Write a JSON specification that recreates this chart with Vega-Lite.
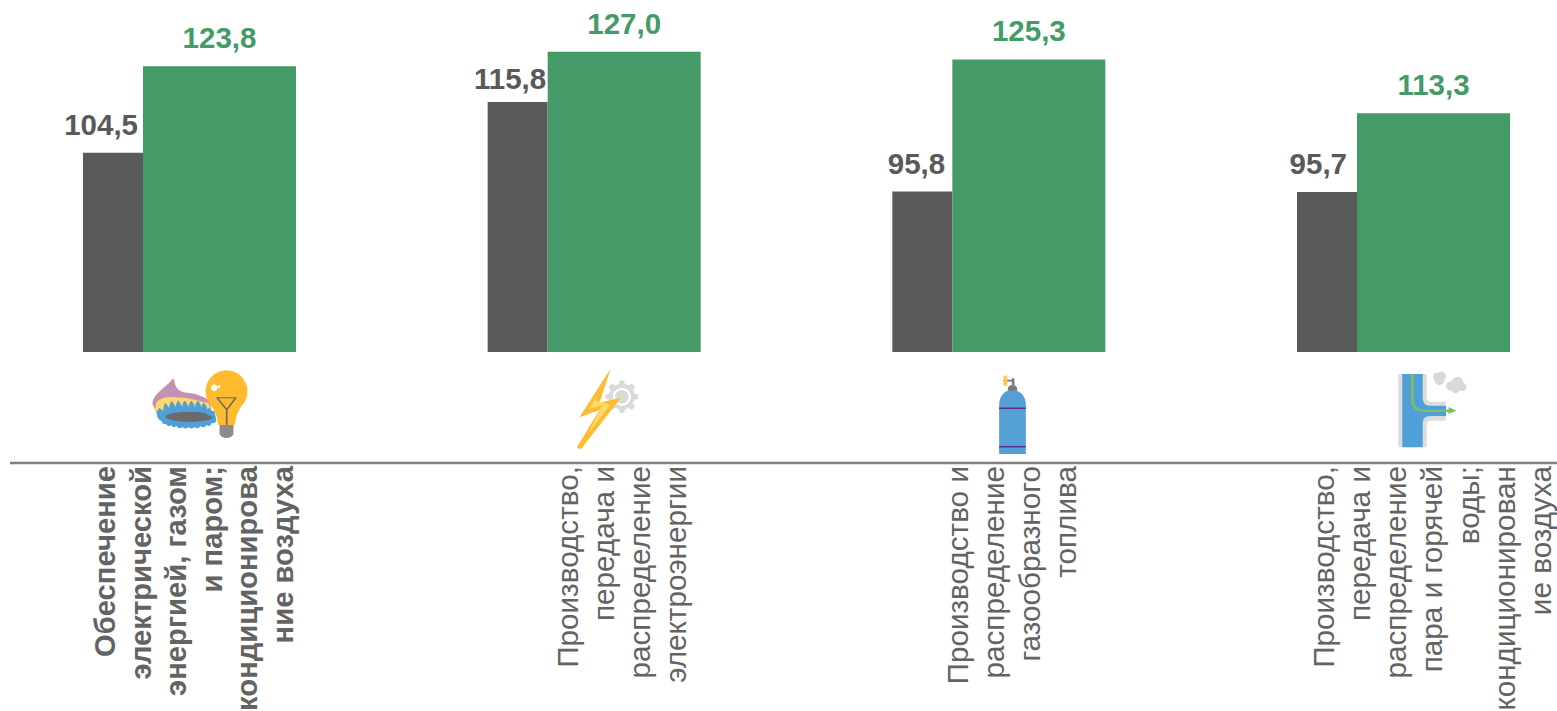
{
"$schema":"https://vega.github.io/schema/vega-lite/v6.json",
"width":1557,"height":711,"padding":0,"autosize":{"type":"none"},"background":"white",
"config":{"view":{"stroke":null},"axis":{"disable":true},"legend":{"disable":true}},
"datasets":{
"bars":[
{"order":1,"series":"A","value":104.5,"label":"104,5"},
{"order":2,"series":"A","value":115.8,"label":"115,8"},
{"order":3,"series":"A","value":95.8,"label":"95,8"},
{"order":4,"series":"A","value":95.7,"label":"95,7"},
{"order":1,"series":"B","value":123.8,"label":"123,8"},
{"order":2,"series":"B","value":127.0,"label":"127,0"},
{"order":3,"series":"B","value":125.3,"label":"125,3"},
{"order":4,"series":"B","value":113.3,"label":"113,3"}],
"sectors":[
{"order":1,"name":"Обеспечение\nэлектрической\nэнергией, газом\nи паром;\nкондиционирова\nние воздуха"},
{"order":2,"name":"Производство,\nпередача и\nраспределение\nэлектроэнергии"},
{"order":3,"name":"Производство и\nраспределение\nгазообразного\nтоплива"},
{"order":4,"name":"Производство,\nпередача и\nраспределение\nпара и горячей\nводы;\nкондиционирован\nие воздуха"}],
"icons":[
{"order":1,"part":"flame"},{"order":1,"part":"innerflame"},{"order":1,"part":"ring"},{"order":1,"part":"burner"},{"order":1,"part":"teeth"},{"order":1,"part":"bulb"},{"order":1,"part":"base"},{"order":1,"part":"filament"},{"order":1,"part":"glint"},
{"order":2,"part":"gear"},{"order":2,"part":"gearring"},{"order":2,"part":"gearhub"},{"order":2,"part":"bolt"},{"order":2,"part":"boltlight"},
{"order":3,"part":"cylinder"},{"order":3,"part":"bands"},{"order":3,"part":"valve"},{"order":3,"part":"knob"},
{"order":4,"part":"pipeshell"},{"order":4,"part":"pipe"},{"order":4,"part":"stream"},{"order":4,"part":"clouds"}]
},
"layer":[
{"data":{"name":"bars"},"transform":[{"filter":"datum.series==='A'"}],
"mark":{"type":"bar","orient":"vertical","size":60,"xOffset":-106.5,"color":"#595959"},
"encoding":{"x":{"field":"order","type":"quantitative","scale":{"domain":[0.45758,4.30516],"zero":false,"nice":false,"padding":0}},
"y":{"field":"value","type":"quantitative","scale":{"domain":[-20.13,138.57],"zero":false,"nice":false}},"y2":{"datum":60}}},
{"data":{"name":"bars"},"transform":[{"filter":"datum.series==='B'"}],
"mark":{"type":"bar","orient":"vertical","size":153,"color":"#449B67"},
"encoding":{"x":{"field":"order","type":"quantitative"},"y":{"field":"value","type":"quantitative"},"y2":{"datum":60}}},
{"data":{"name":"bars"},"transform":[{"filter":"datum.series==='B'"}],
"mark":{"type":"text","font":"Liberation Sans","fontWeight":"bold","fontSize":29.5,"color":"#449B67","baseline":"alphabetic","dy":-18},
"encoding":{"x":{"field":"order","type":"quantitative"},"y":{"field":"value","type":"quantitative"},"text":{"field":"label"}}},
{"data":{"name":"bars"},"transform":[{"filter":"datum.series==='A' && datum.order===1"}],
"mark":{"type":"text","font":"Liberation Sans","fontWeight":"bold","fontSize":29.5,"color":"#595959","baseline":"alphabetic","align":"right","dy":-18,"xOffset":-81.5},
"encoding":{"x":{"field":"order","type":"quantitative"},"y":{"field":"value","type":"quantitative"},"text":{"field":"label"}}},
{"data":{"name":"bars"},"transform":[{"filter":"datum.series==='A' && datum.order===2"}],
"mark":{"type":"text","font":"Liberation Sans","fontWeight":"bold","fontSize":29.5,"color":"#595959","baseline":"alphabetic","align":"right","dy":-13,"xOffset":-78},
"encoding":{"x":{"field":"order","type":"quantitative"},"y":{"field":"value","type":"quantitative"},"text":{"field":"label"}}},
{"data":{"name":"bars"},"transform":[{"filter":"datum.series==='A' && datum.order===3"}],
"mark":{"type":"text","font":"Liberation Sans","fontWeight":"bold","fontSize":29.5,"color":"#595959","baseline":"alphabetic","align":"right","dy":-18,"xOffset":-83.7},
"encoding":{"x":{"field":"order","type":"quantitative"},"y":{"field":"value","type":"quantitative"},"text":{"field":"label"}}},
{"data":{"name":"bars"},"transform":[{"filter":"datum.series==='A' && datum.order===4"}],
"mark":{"type":"text","font":"Liberation Sans","fontWeight":"bold","fontSize":29.5,"color":"#595959","baseline":"alphabetic","align":"right","dy":-18,"xOffset":-86.5},
"encoding":{"x":{"field":"order","type":"quantitative"},"y":{"field":"value","type":"quantitative"},"text":{"field":"label"}}},
{"data":{"values":[{"order":1}]},
"mark":{"type":"rule","color":"#7F7F7F","size":2.5},
"encoding":{"x":{"datum":0.4823},"x2":{"datum":4.30516},"y":{"datum":35.22}}},
{"data":{"name":"sectors"},"transform":[{"filter":"datum.order===1"}],
"mark":{"type":"text","font":"Liberation Sans","fontWeight":"bold","fontSize":29.2,"color":"#636363","angle":270,"align":"right","baseline":"middle","lineBreak":"\n","lineHeight":35.6,"xOffset":-113.5},
"encoding":{"x":{"field":"order","type":"quantitative"},"y":{"datum":34.55},"text":{"field":"name"}}},
{"data":{"name":"sectors"},"transform":[{"filter":"datum.order===2"}],
"mark":{"type":"text","font":"Liberation Sans","fontSize":29.7,"color":"#636363","angle":270,"align":"right","baseline":"middle","lineBreak":"\n","lineHeight":36,"xOffset":-55},
"encoding":{"x":{"field":"order","type":"quantitative"},"y":{"datum":34.55},"text":{"field":"name"}}},
{"data":{"name":"sectors"},"transform":[{"filter":"datum.order===3"}],
"mark":{"type":"text","font":"Liberation Sans","fontSize":29.7,"color":"#636363","angle":270,"align":"right","baseline":"middle","lineBreak":"\n","lineHeight":36,"xOffset":-69.7},
"encoding":{"x":{"field":"order","type":"quantitative"},"y":{"datum":34.55},"text":{"field":"name"}}},
{"data":{"name":"sectors"},"transform":[{"filter":"datum.order===4"}],
"mark":{"type":"text","font":"Liberation Sans","fontSize":29.7,"color":"#636363","angle":270,"align":"right","baseline":"middle","lineBreak":"\n","lineHeight":36.3,"xOffset":-109},
"encoding":{"x":{"field":"order","type":"quantitative"},"y":{"datum":34.55},"text":{"field":"name"}}},
{"data":{"name":"icons"},
"mark":{"type":"point","filled":true,"size":4,"opacity":1,"strokeWidth":0},
"encoding":{"x":{"field":"order","type":"quantitative"},"y":{"datum":46.607},
"shape":{"field":"part","type":"nominal","scale":{
"domain":["flame","innerflame","ring","burner","teeth","bulb","base","filament","glint","gear","gearring","gearhub","bolt","boltlight","cylinder","bands","valve","knob","pipeshell","pipe","stream","clouds"],
"range":[
"M-46,-34 C-44,-24 -42,-20 -30,-19 C-20,-18 -15,-14 -10,-12 L-6,8 L-60,8 L-67,-8 C-67,-18 -56,-22 -46,-34 Z",
"M-64.5,-2 L-63,-10 C-58,-14 -54,-15 -49.5,-15 L-33,-14 L-11,-9 L-6,5 L-59.5,8 Z",
"M-63,-1 L-5,-1 L-3,9 Q-5,12 -8,11 Q-9,16 -13,13 Q-15,17 -19,14 Q-22,18 -25,15 Q-28,18 -31,15 Q-34,18 -37,15 Q-40,18 -43,14 Q-47,17 -48,13 Q-52,16 -53,12 Q-57,13 -58,9 Q-62,8 -63,-1 Z",
"M-54,4.7 a24,5 0 1,0 48,0 a24,5 0 1,0 -48,0 Z",
"M-62,6 Q-63,-3 -60,-4 Q-55,-1 -53,4 Z M-56,3 Q-57,-7 -54,-9 Q-50,-5 -48,1 Z M-50,1 Q-51,-9 -47.5,-11 Q-43.5,-6 -42,0 Z M-43.5,0 Q-44.5,-9 -41,-11.5 Q-37,-6 -36,-0.5 Z M-37,-0.5 Q-38,-9 -34.5,-11.5 Q-30.5,-6 -29.5,-0.5 Z M-30.5,-0.5 Q-31.5,-9 -28,-11.5 Q-24,-6 -23,-0.5 Z M-24,-0.5 Q-25,-9 -21.5,-11.5 Q-17.5,-6 -17,0.5 Z M-18,0.5 Q-19,-7 -15.5,-9.5 Q-12,-5 -11,2 Z M-12.5,2.5 Q-13,-3 -10,-4.5 Q-6.5,0 -5.5,6 Z",
"M-8,-6 A21,21 0 1,1 22,-6 C19,-1 16,3 15.5,13 L-1.5,13 C-2,3 -5,-1 -8,-6 Z",
"M0,13 L14,13 L14,22 Q12,26 7,26 Q2,26 0,22 Z",
"M-3,-14.8 L17,-14.8 L17,-13.8 L8,-2 L8,13 L6.4,13 L6.4,-2 L-3,-13.8 Z M-1,-13.8 L7.2,-3.5 L15,-13.8 Z",
"M-8.5,-24.3 a3.3,3.3 0 1,0 6.6,0 a3.3,3.3 0 1,0 -6.6,0 Z M-2,-25.3 a1.4,1.4 0 1,0 2.8,0 a1.4,1.4 0 1,0 -2.8,0 Z",
"M10.3,-18.4 L14,-17.6 L14,-13 L10.3,-12.2 L8.8,-8.6 L10.9,-5.4 L7.6,-2.1 L4.4,-4.2 L0.8,-2.7 L0,1 L-4.6,1 L-5.4,-2.7 L-9,-4.2 L-12.2,-2.1 L-15.5,-5.4 L-13.4,-8.6 L-14.9,-12.2 L-18.6,-13 L-18.6,-17.6 L-14.9,-18.4 L-13.4,-22 L-15.5,-25.2 L-12.2,-28.5 L-9,-26.4 L-5.4,-27.9 L-4.6,-31.6 L0,-31.6 L0.8,-27.9 L4.4,-26.4 L7.6,-28.5 L10.9,-25.2 L8.8,-22 Z",
"M-11.3,-15.3 a9,9 0 1,0 18,0 a9,9 0 1,0 -18,0 Z",
"M-9,-15.3 a6.7,6.7 0 1,0 13.4,0 a6.7,6.7 0 1,0 -13.4,0 Z",
"M-13.3,-43.7 L-44.7,5.3 L-24.7,-2 L-47.3,35.3 L-43.3,37.3 L-3.3,-14.3 L-24.7,-9.3 Z",
"M-20.7,-28.7 L-35.7,-2 L-22.3,-7 L-35.7,21.3 L-14,-7 L-29,-12 Z",
"M-29.7,42 L-29.7,-7 C-29.7,-16 -24,-22 -16.4,-22 C-9,-22 -3,-16 -3,-7 L-3,42 Z",
"M-29.7,-4.4 L-3,-4.4 L-3,-3 L-29.7,-3 Z M-29.7,34 L-3,34 L-3,35.5 L-29.7,35.5 Z",
"M-21,-21.3 L-21,-24 Q-20,-27 -16.4,-27 Q-12.7,-27 -11.7,-24 L-11.7,-21.3 Z M-17,-27 L-17,-33.7 L-14.4,-33.7 L-14.4,-27 Z M-25.4,-32.3 L-17,-32.3 L-17,-30.5 L-25.4,-30.5 Z",
"M-25.4,-36.3 L-21.4,-36.3 L-21.4,-26.3 L-25.4,-26.3 Z",
"M-35.2,-38 L-6.8,-38 L-6.8,-15.3 Q-6.8,-10.3 -1.8,-10.3 L12.2,-10.3 L12.2,8.7 L-1.8,8.7 Q-6.8,8.7 -6.8,13 L-6.8,35.3 L-35.2,35.3 Z",
"M-31.2,-38 L-10.8,-38 L-10.8,-13.7 Q-10.8,-6.3 -3.5,-6.3 L12.5,-6.3 L12.5,4 L-3.5,4 Q-10.8,4 -10.8,11.3 L-10.8,35.3 L-31.2,35.3 Z",
"M-22.5,-38 L-19.8,-38 L-19.8,-13 Q-19.8,-2.6 -9,-2.6 L15,-2.6 L15,-5 L23,-1.3 L15,2 L15,0 L-9,0 Q-22.5,0 -22.5,-13 Z",
"M-0.5,-35 a4.5,4.5 0 1,0 9,0 a4.5,4.5 0 1,0 -9,0 Z M3.5,-36 a4.5,4.5 0 1,0 9,0 a4.5,4.5 0 1,0 -9,0 Z M1,-32 a5,5 0 1,0 10,0 a5,5 0 1,0 -10,0 Z M12.5,-26 a4.5,4.5 0 1,0 9,0 a4.5,4.5 0 1,0 -9,0 Z M18,-29 a6,6 0 1,0 12,0 a6,6 0 1,0 -12,0 Z M25,-25 a4,4 0 1,0 8,0 a4,4 0 1,0 -8,0 Z M17,-24 a5,5 0 1,0 10,0 a5,5 0 1,0 -10,0 Z"
]}},
"color":{"field":"part","type":"nominal","scale":{
"domain":["flame","innerflame","ring","burner","teeth","bulb","base","filament","glint","gear","gearring","gearhub","bolt","boltlight","cylinder","bands","valve","knob","pipeshell","pipe","stream","clouds"],
"range":["#C591B2","#FFD86B","#4F9FD9","#6B6B6B","#4F9FD9","#FDBB2D","#8C8C8C","#6E6A5A","#FFFFFF","#DADADA","#FFFFFF","#DADADA","#FDBB2D","#FFD86B","#559FD9","#5B2D8E","#7A7A7A","#FDC94F","#DDDDDD","#4F9FD9","#7DBE62","#D9D9D9"]}}}}
]
}
